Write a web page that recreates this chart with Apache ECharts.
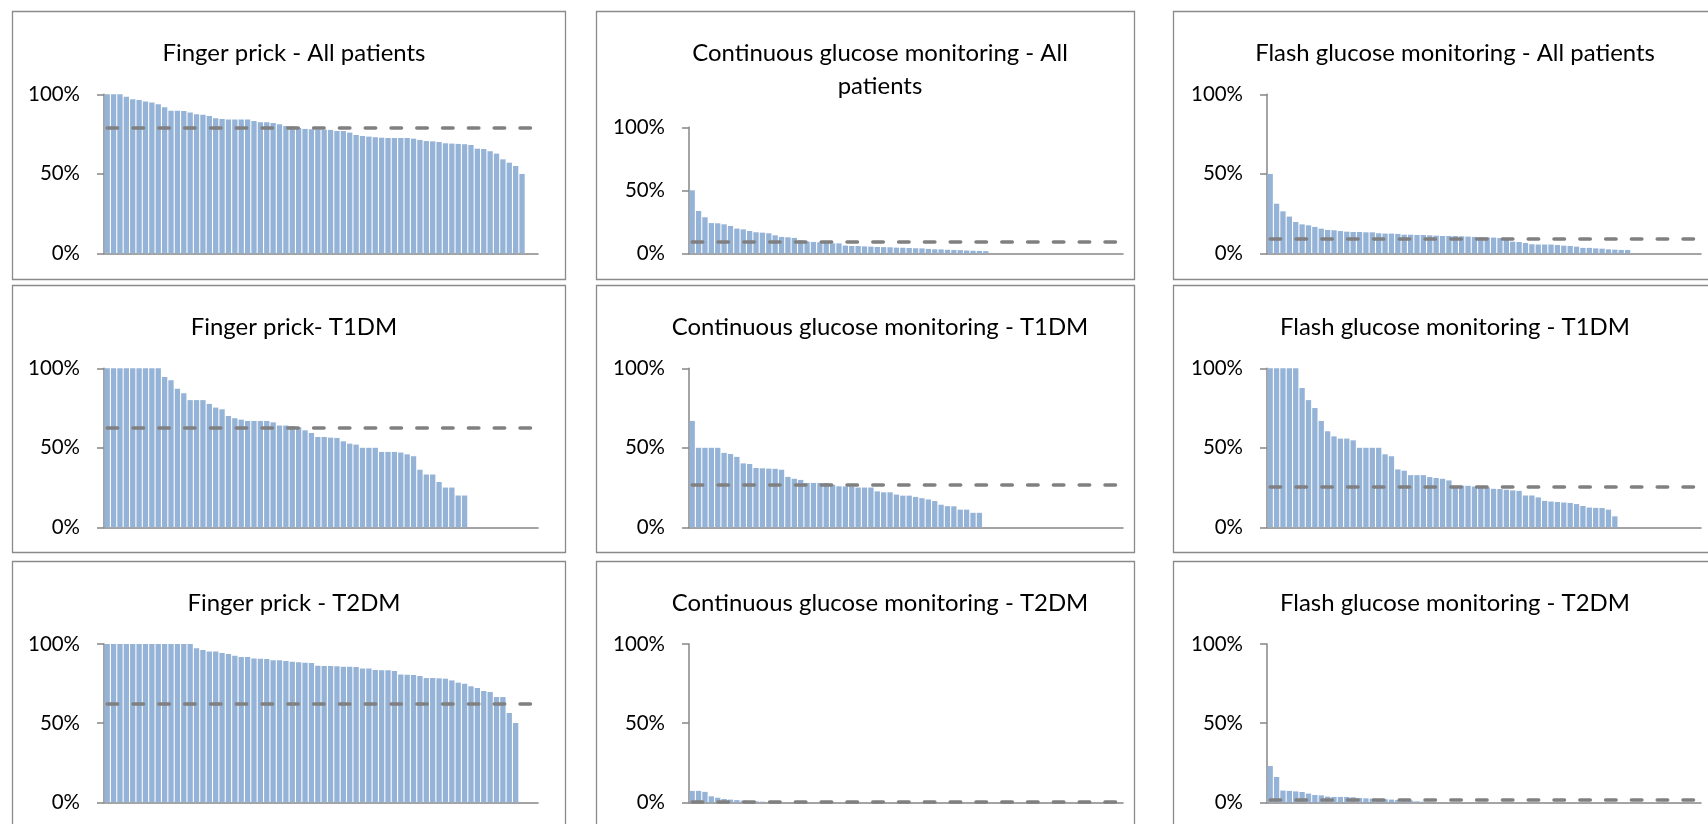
<!DOCTYPE html>
<html>
<head>
<meta charset="utf-8">
<script src="https://cdn.jsdelivr.net/npm/echarts@6/dist/echarts.min.js"></script>
<style>
html,body{margin:0;padding:0;background:#fff;}
#chart{width:1708px;height:824px;}
</style>
</head>
<body>
<div id="chart"></div>
<script>
// ---------- DATA ----------
const categories = Array.from({length: 68}, (_, i) => String(i + 1)); // unlabeled centre slots
const yTickValues = [0, 50, 100];

const fpAll = [100,100,100,98.5,96.9,96.4,95.4,94.8,93.7,91.8,89.7,89.7,89.5,88.5,87.4,87.2,86.4,84.9,84.5,84.1,84.1,84.1,84.1,83.2,82.4,82.4,82,81.1,80.1,79.9,78.8,78.2,78,77.8,77.8,77.6,76.9,76.9,75.9,74.4,73.8,73.4,73,72.7,72.5,72.5,72.5,72.5,72.1,71.3,70.6,70.4,70,69.2,69,68.8,68.6,68.1,65.8,65.6,64.2,62.7,59.1,57,54.9,49.9];
const fpT1 = [100,100,100,100,100,100,100,100,100,94.5,92.5,87.2,84.3,80,80,80,77.6,75.3,74.2,70,68.6,67.7,66.9,66.9,66.9,66.9,66,64,64,63.7,62.9,61,59.3,56.8,56.8,56.4,56.2,54.1,52.6,52,50,50,50,47.4,47.4,47.4,47,45.9,44.7,36.2,33.2,33.2,28.5,25,25,20,20];
const fpT2 = [100,100,100,100,100,100,100,100,100,100,100,100,100,100,97.3,96.2,95.2,95.2,94.3,93.7,92.6,91.8,91.8,90.9,90.7,90.5,89.7,89.7,89.3,88.8,88.4,88.2,88,86.3,86.1,86.1,85.9,85.7,85.7,85.5,84.6,84.6,83.6,83.4,83.4,82.9,80.8,80.6,80.4,79.8,78.5,78.5,78.3,78.1,77,75.6,74.9,73.3,72.2,70.3,69.7,66.5,66.5,56.4,50.1];

const cgmAll = [50,33.6,28.6,24,23.8,23,21.7,19.6,19,17.7,16.7,16.4,15.9,14.3,13,12.7,12.2,10.3,9.3,9,8.7,8.5,7.9,7.9,6.1,5.8,5.8,5.5,5.3,5.0,4.9,4.8,4.5,4.4,4.2,4.0,3.9,3.5,3.2,3.1,2.8,2.6,2.5,2.2,2.0,1.9,1.7];
const cgmT1 = [66.9,50,50,50,50,46.8,46.1,44.3,40.2,39.8,37.3,37.1,36.9,36.8,36.2,31.7,30.5,29.8,27.9,27.9,27.9,27.9,26.7,25.8,25.7,25.7,25,25,25,22.6,22,22,20.6,19.9,19.9,19.1,18.3,17.5,16.5,14.2,13.3,13.2,11.1,11.1,9.1,9.1];
const cgmT2 = [7.2,7.2,6.6,3.8,2.9,2.1,1.7,1.4,1.1,0.8,0.6,0.4];

const flashAll = [49.9,31.2,26.4,23.1,19.7,18.2,17.6,16.6,15.5,14.7,14.5,14,13.6,13.4,13.4,13.2,13.2,12.6,12.4,12.4,12.2,11.7,11.7,11.5,11.5,11.3,11.1,10.9,10.9,10.9,10.7,10.5,10.3,10.1,10.0,9.9,9.6,9.2,7.3,7.1,6.5,5.7,5.5,5.5,5.5,5.2,4.8,4.6,4.2,3.4,3.4,3.1,2.9,2.5,2.3,2.1,2.1];
const flashT1 = [100,100,100,100,100,87.6,80,75,66.9,60.4,57.2,55.8,55.8,54.7,50,50,50,50,45.9,44.7,36.4,35.6,32.8,32.8,32.8,31.6,31,30.5,29.5,26.2,26.2,26.1,25.6,25.3,25,24.2,24.1,23.6,23.2,22.9,20,20,18.8,16.6,16.2,15.9,15.6,15.3,14.6,13.4,12.4,12.2,12.1,11.1,6.9];
const flashT2 = [22.9,16,7.4,7.2,6.9,6.5,5.5,4.6,4.4,3.6,3.4,3.4,3.4,3.2,2.7,2.5,2.3,2.1,1.9,1.7,1.5,1.3,1.1,0.6,0.4];

// dashed reference level (mean) per panel, row-major order
const meanLevels = [79.0, 9.0, 9.4, 62.7, 26.7, 25.4, 62.5, 0.5, 1.9];

const panelTitles = [
  'Finger prick - All patients', 'Continuous glucose monitoring - All\npatients', 'Flash glucose monitoring - All patients',
  'Finger prick- T1DM', 'Continuous glucose monitoring - T1DM', 'Flash glucose monitoring - T1DM',
  'Finger prick - T2DM', 'Continuous glucose monitoring - T2DM', 'Flash glucose monitoring - T2DM'
];
const panelData = [fpAll, cgmAll, flashAll, fpT1, cgmT1, flashT1, fpT2, cgmT2, flashT2];

// ---------- LAYOUT ----------
const colAxisLeft = [104, 689, 1267];
const colAxisWidth = [434, 434, 434];
const rowTop = [94.3, 368.3, 644];
const rowBottom = [253.3, 527.3, 802.3];
const twoLineTop = 127.3;
const boxX = [12.5, 596.5, 1173.5];
const boxW = [553, 538, 560];
const boxY = [11.5, 285.5, 561.5];
const boxH = [268, 267, 290];
const titleCenterX = [289, 875, 1450];
const titleCenterY = [48, 322, 598];

const FONT = 'Lato';
function fitSize(text, target) {
  const c = document.createElement('canvas').getContext('2d');
  c.font = '100px ' + FONT;
  return 100 * target / c.measureText(text).width;
}
const titleSize = fitSize('Finger prick - All patients', 263);
const labelSize = fitSize('100%', 52);
const titleLH = 33;

const BAR = '#95B3D7';
const AXIS = '#868686';
const DASH = '#808080';

const grids = [], xAxes = [], yAxes = [], series = [], titles = [], graphics = [];
for (let r = 0; r < 3; r++) {
  for (let c = 0; c < 3; c++) {
    const i = r * 3 + c;
    const top = (i === 1) ? twoLineTop : rowTop[r];
    grids.push({left: colAxisLeft[c], top: top, width: colAxisWidth[c], height: rowBottom[r] - top, containLabel: false});
    xAxes.push({
      type: 'category', gridIndex: i, data: categories, boundaryGap: true,
      axisLine: {show: true, lineStyle: {color: AXIS, width: 1.5}},
      axisTick: {show: false}, axisLabel: {show: false}, splitLine: {show: false}
    });
    yAxes.push({
      type: 'value', gridIndex: i, min: yTickValues[0], max: yTickValues[yTickValues.length - 1], interval: 50,
      axisLine: {show: true, lineStyle: {color: AXIS, width: 1.5}},
      axisTick: {show: true, length: 7, lineStyle: {color: AXIS, width: 1.5}},
      splitLine: {show: false},
      axisLabel: {formatter: '{value}%', fontFamily: FONT, fontSize: labelSize, color: '#000', margin: 24}
    });
    const m = meanLevels[i];
    series.push({
      type: 'bar', xAxisIndex: i, yAxisIndex: i, data: panelData[i],
      barCategoryGap: '17%', itemStyle: {color: BAR}, silent: true,
      markLine: {
        silent: true, symbol: ['none', 'none'], label: {show: false},
        lineStyle: {color: DASH, width: 3.5, type: [10.5, 15.3], cap: 'round'},
        emphasis: {disabled: true},
        data: [[{coord: [categories[0], m]}, {coord: [categories[categories.length - 1], m]}]]
      }
    });
    titles.push({
      text: panelTitles[i],
      left: titleCenterX[c], top: titleCenterY[r] - titleLH / 2, textAlign: 'center',
      textStyle: {fontFamily: FONT, fontSize: titleSize, fontWeight: 'normal', color: '#000', lineHeight: titleLH}
    });
    graphics.push({
      type: 'rect', silent: true, z: -1,
      shape: {x: boxX[c], y: boxY[r], width: boxW[c], height: boxH[r]},
      style: {fill: 'none', stroke: '#8a8a8a', lineWidth: 1.3}
    });
  }
}
const chart = echarts.init(document.getElementById('chart'), null, {renderer: 'canvas'});
chart.setOption({
  animation: false,
  backgroundColor: '#fff',
  title: titles,
  grid: grids,
  xAxis: xAxes,
  yAxis: yAxes,
  series: series,
  graphic: graphics
});
</script>
</body>
</html>
